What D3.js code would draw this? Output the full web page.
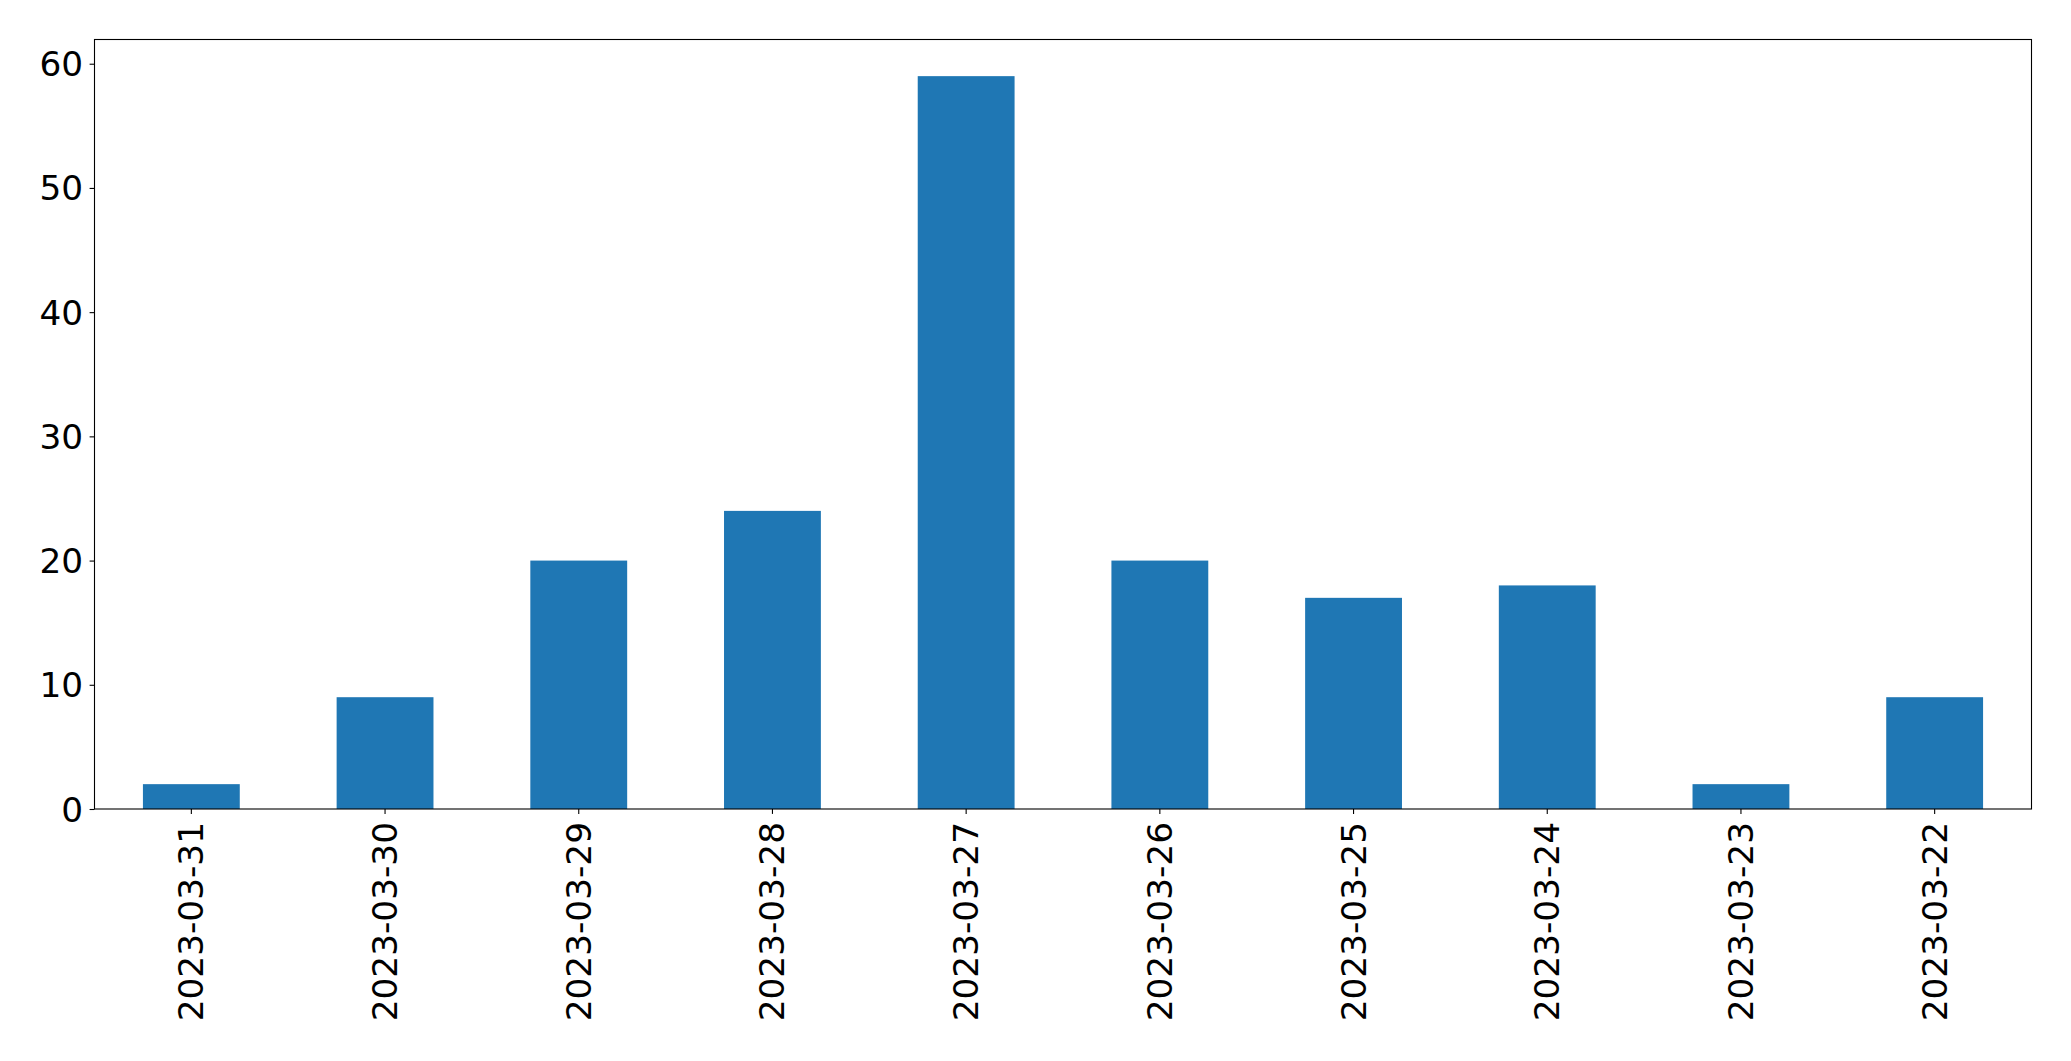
<!DOCTYPE html>
<html>
<head>
<meta charset="utf-8">
<script src="https://cdn.jsdelivr.net/npm/d3@7"></script>
<style>
  html, body { margin: 0; padding: 0; background: #fff; }
  svg { display: block; }
  text { font-family: "DejaVu Sans", sans-serif; fill: #000; }
</style>
</head>
<body>
<svg id="chart" width="2071" height="1061"></svg>
<script>
const categories = ["2023-03-31","2023-03-30","2023-03-29","2023-03-28","2023-03-27","2023-03-26","2023-03-25","2023-03-24","2023-03-23","2023-03-22"];
const values = [2, 9, 20, 24, 59, 20, 17, 18, 2, 9];
const yTicks = [0, 10, 20, 30, 40, 50, 60];

const W = 2071, H = 1061;
const m = { left: 94.5, right: 2031.5, top: 39.5, bottom: 809 };
const fontSize = 34.3;

const svg = d3.select("#chart");

const x = d3.scaleBand().domain(categories).range([m.left, m.right]).paddingInner(0.5).paddingOuter(0.25);
const y = d3.scaleLinear().domain([0, d3.max(values) * 1.05]).range([m.bottom, m.top]);

// bars
svg.append("g").selectAll("rect").data(categories).join("rect")
  .attr("x", d => x(d))
  .attr("width", x.bandwidth())
  .attr("y", (d, i) => y(values[i]))
  .attr("height", (d, i) => y(0) - y(values[i]))
  .attr("fill", "#1f77b4");

// y axis
const yAxis = d3.axisLeft(y).tickValues(yTicks).tickSize(4.9).tickPadding(6.5).tickFormat(d3.format("d"));
const gy = svg.append("g").attr("transform", `translate(${m.left},0)`).call(yAxis);
gy.select(".domain").remove();
gy.selectAll(".tick line").attr("stroke", "#000").attr("stroke-width", 1.1);
gy.selectAll(".tick text").style("font-size", fontSize + "px").attr("font-family", "DejaVu Sans").attr("dy", "0.35em");

// x axis
const xAxis = d3.axisBottom(x).tickSize(4.9).tickPadding(0);
const gx = svg.append("g").attr("transform", `translate(0,${m.bottom})`).call(xAxis);
gx.select(".domain").remove();
gx.selectAll(".tick line").attr("stroke", "#000").attr("stroke-width", 1.1);
gx.selectAll(".tick text")
  .style("font-size", fontSize + "px")
  .attr("font-family", "DejaVu Sans")
  .attr("text-anchor", "end")
  .attr("dy", null)
  .attr("dominant-baseline", "central")
  .attr("transform", "translate(0, 13) rotate(-90)")
  .attr("x", 0).attr("y", 0);

// frame
svg.append("rect")
  .attr("x", m.left).attr("y", m.top)
  .attr("width", m.right - m.left).attr("height", m.bottom - m.top)
  .attr("fill", "none").attr("stroke", "#000").attr("stroke-width", 1.1);
</script>
</body>
</html>
